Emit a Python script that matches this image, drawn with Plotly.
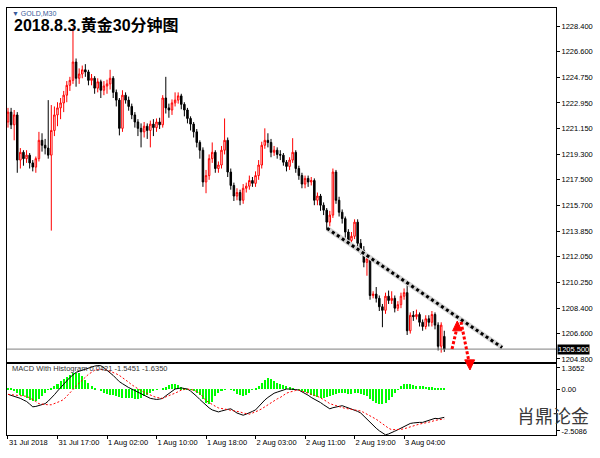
import plotly.graph_objects as go

TITLE = "2018.8.3.黄金30分钟图"
SYMBOL = "▼ GOLD,M30"
WATERMARK = "肖鼎论金"
MACD_LABEL = "MACD With Histogram 0.0421 -1.5451 -1.6350"

OPEN = [1221.6, 1222.3, 1221.4, 1222.1, 1218.9, 1219.45, 1219.0, 1219.25, 1218.7, 1218.4,
        1219.0, 1220.3, 1219.95, 1219.75, 1219.25, 1221.0, 1222.1, 1222.6, 1222.95, 1223.5,
        1224.2, 1224.55, 1225.85, 1224.7, 1225.0, 1225.3, 1225.15, 1224.55, 1224.7, 1224.0,
        1224.45, 1223.85, 1224.15, 1224.3, 1224.7, 1223.7, 1223.15, 1221.15, 1223.5, 1223.15,
        1222.7, 1222.1, 1221.6, 1221.15, 1220.9, 1221.3, 1221.0, 1221.45, 1221.2, 1221.6,
        1221.4, 1223.3, 1222.6, 1222.45, 1222.95, 1223.15, 1223.45, 1222.85, 1222.45, 1221.85,
        1221.45, 1220.9, 1220.15, 1219.6, 1217.35, 1217.8, 1219.0, 1219.45, 1218.3, 1218.55,
        1219.6, 1220.3, 1218.05, 1217.1, 1216.35, 1216.6, 1216.05, 1216.9, 1217.05, 1217.45,
        1217.25, 1217.8, 1218.55, 1219.95, 1220.3, 1220.15, 1219.45, 1219.6, 1219.3, 1219.25,
        1218.75, 1218.45, 1218.9, 1219.45, 1218.3, 1217.8, 1217.2, 1217.6, 1217.35, 1217.45,
        1216.05, 1216.35, 1215.7, 1215.35, 1214.5, 1215.0, 1218.05, 1216.05, 1215.2, 1214.75,
        1213.8, 1213.2, 1213.5, 1214.5, 1213.0, 1212.5, 1211.65, 1211.9, 1209.3, 1209.4,
        1209.1, 1208.5, 1208.25, 1209.25, 1208.95, 1209.1, 1208.4, 1208.65, 1209.25, 1209.5,
        1206.8, 1207.9, 1207.8, 1207.95, 1207.4, 1207.1, 1207.65, 1207.4, 1207.95, 1207.2,
        1205.7, 1206.4]
HIGH = [1222.6, 1222.6, 1222.45, 1222.3, 1219.75, 1219.6, 1219.6, 1219.4, 1218.9, 1219.15,
        1220.9, 1220.8, 1220.4, 1223.15, 1222.8, 1222.7, 1223.0, 1223.3, 1223.8, 1224.5,
        1224.8, 1228.3, 1226.1, 1225.4, 1225.6, 1225.7, 1225.3, 1225.0, 1224.85, 1224.7,
        1224.6, 1224.5, 1224.6, 1225.3, 1224.85, 1223.9, 1223.3, 1223.85, 1223.7, 1223.4,
        1222.9, 1222.3, 1221.8, 1221.5, 1221.6, 1221.5, 1221.7, 1221.8, 1221.85, 1221.9,
        1223.5, 1224.8, 1222.9, 1223.2, 1223.7, 1223.7, 1223.6, 1223.0, 1222.6, 1222.0,
        1221.6, 1221.1, 1220.3, 1219.8, 1218.2, 1219.3, 1220.15, 1219.6, 1218.8, 1219.9,
        1221.85, 1220.5, 1218.3, 1217.3, 1216.9, 1216.8, 1217.2, 1217.3, 1217.8, 1217.7,
        1218.1, 1218.9, 1220.2, 1221.15, 1220.8, 1220.4, 1219.9, 1219.8, 1219.6, 1219.4,
        1218.9, 1219.1, 1220.45, 1219.6, 1218.5, 1218.0, 1217.8, 1217.8, 1217.7, 1217.6,
        1216.6, 1216.5, 1215.9, 1215.5, 1215.3, 1218.3, 1218.2, 1216.3, 1215.4, 1214.9,
        1214.0, 1213.8, 1214.7, 1214.7, 1213.3, 1212.8, 1212.2, 1212.0, 1209.6, 1209.9,
        1209.3, 1208.7, 1209.5, 1209.65, 1209.6, 1209.3, 1208.9, 1209.5, 1209.8, 1210.15,
        1208.1, 1208.2, 1208.3, 1208.1, 1207.6, 1207.9, 1207.9, 1208.2, 1208.1, 1207.4,
        1207.4, 1206.8]
LOW = [1221.2, 1221.1, 1220.3, 1218.0, 1218.3, 1218.5, 1218.7, 1218.3, 1218.1, 1218.0,
       1218.8, 1219.5, 1219.3, 1219.0, 1213.9, 1220.6, 1221.3, 1221.8, 1222.3, 1223.0,
       1223.8, 1224.3, 1224.1, 1224.3, 1224.7, 1224.8, 1224.2, 1224.2, 1223.6, 1223.7,
       1223.3, 1223.5, 1223.6, 1223.9, 1223.3, 1222.7, 1220.65, 1220.9, 1222.9, 1222.4,
       1221.8, 1221.2, 1220.6, 1219.8, 1220.5, 1220.4, 1219.8, 1220.6, 1220.9, 1221.1,
       1221.2, 1222.2, 1221.9, 1222.1, 1222.7, 1222.9, 1222.5, 1222.0, 1221.5, 1221.0,
       1220.5, 1219.8, 1219.0, 1217.0, 1216.55, 1217.5, 1218.7, 1218.0, 1218.0, 1218.3,
       1219.3, 1217.7, 1216.8, 1216.0, 1216.05, 1215.7, 1215.8, 1216.6, 1216.8, 1217.0,
       1217.0, 1217.5, 1218.3, 1219.7, 1219.8, 1219.1, 1219.2, 1219.0, 1218.9, 1218.5,
       1218.1, 1218.2, 1218.7, 1218.0, 1217.5, 1216.9, 1216.9, 1217.0, 1217.1, 1215.7,
       1215.7, 1215.3, 1215.0, 1213.9, 1214.2, 1214.8, 1215.8, 1214.9, 1214.4, 1213.4,
       1212.9, 1213.0, 1213.3, 1212.7, 1212.2, 1211.3, 1210.7, 1209.0, 1209.1, 1208.8,
       1208.2, 1207.05, 1208.0, 1208.7, 1208.7, 1208.1, 1208.2, 1208.4, 1209.0, 1206.5,
       1206.6, 1207.5, 1207.6, 1207.1, 1206.8, 1206.9, 1207.1, 1207.1, 1206.9, 1205.4,
       1205.25, 1205.3]
CLOSE = [1222.3, 1221.4, 1222.1, 1218.9, 1219.45, 1219.0, 1219.25, 1218.7, 1218.4, 1219.0,
         1220.3, 1219.95, 1219.75, 1219.25, 1221.0, 1222.1, 1222.6, 1222.95, 1223.5, 1224.2,
         1224.55, 1225.85, 1224.7, 1225.0, 1225.3, 1225.15, 1224.55, 1224.7, 1224.0, 1224.45,
         1223.85, 1224.15, 1224.3, 1224.7, 1223.7, 1223.15, 1221.15, 1223.5, 1223.15, 1222.7,
         1222.1, 1221.6, 1221.15, 1220.9, 1221.3, 1221.0, 1221.45, 1221.2, 1221.6, 1221.4,
         1223.3, 1222.6, 1222.45, 1222.95, 1223.15, 1223.45, 1222.85, 1222.45, 1221.85, 1221.45,
         1220.9, 1220.15, 1219.6, 1217.35, 1217.8, 1219.0, 1219.45, 1218.3, 1218.55, 1219.6,
         1220.3, 1218.05, 1217.1, 1216.35, 1216.6, 1216.05, 1216.9, 1217.05, 1217.45, 1217.25,
         1217.8, 1218.55, 1219.95, 1220.3, 1220.15, 1219.45, 1219.6, 1219.3, 1219.25, 1218.75,
         1218.45, 1218.9, 1219.45, 1218.3, 1217.8, 1217.2, 1217.6, 1217.35, 1217.45, 1216.05,
         1216.35, 1215.7, 1215.35, 1214.5, 1215.0, 1218.05, 1216.05, 1215.2, 1214.75, 1213.8,
         1213.2, 1213.5, 1214.5, 1213.0, 1212.5, 1211.65, 1211.9, 1209.3, 1209.4, 1209.1,
         1208.5, 1208.25, 1209.25, 1208.95, 1209.1, 1208.4, 1208.65, 1209.25, 1209.5, 1206.8,
         1207.9, 1207.8, 1207.95, 1207.4, 1207.1, 1207.65, 1207.4, 1207.95, 1207.2, 1205.7,
         1207.2, 1205.5]

MACD = [-0.29, -0.34, -0.40, -0.45, -0.51, -0.60, -0.68, -0.82, -0.97, -0.95,
        -0.91, -0.86, -0.80, -0.66, -0.51, -0.31, -0.11, 0.09, 0.29, 0.46,
        0.63, 0.77, 0.91, 0.97, 1.03, 1.09, 1.14, 1.20, 1.25, 1.28,
        1.27, 1.16, 1.03, 0.89, 0.74, 0.57, 0.40, 0.29, 0.17, 0.08,
        0.00, -0.09, -0.17, -0.26, -0.34, -0.43, -0.51, -0.54, -0.57, -0.55,
        -0.51, -0.37, -0.23, -0.11, 0.00, 0.03, 0.06, 0.03, 0.00, -0.11,
        -0.23, -0.40, -0.57, -0.74, -0.91, -1.03, -1.14, -1.20, -1.25, -1.20,
        -1.14, -1.11, -1.08, -1.20, -1.31, -1.37, -1.43, -1.37, -1.31, -1.22,
        -1.14, -0.94, -0.74, -0.60, -0.46, -0.34, -0.23, -0.17, -0.11, -0.05,
        0.00, 0.00, 0.00, -0.03, -0.06, -0.14, -0.23, -0.34, -0.46, -0.54,
        -0.63, -0.74, -0.86, -0.97, -1.08, -1.02, -0.97, -0.94, -0.91, -0.97,
        -1.03, -1.08, -1.14, -1.22, -1.31, -1.48, -1.65, -1.82, -2.00, -2.14,
        -2.28, -2.40, -2.50, -2.45, -2.39, -2.30, -2.22, -2.13, -2.05, -1.96,
        -1.88, -1.85, -1.82, -1.82, -1.82, -1.76, -1.71, -1.65, -1.60, -1.62,
        -1.60, -1.5451]
SIGNAL = [-0.29, -0.31, -0.34, -0.34, -0.34, -0.37, -0.40, -0.48, -0.57, -0.68,
          -0.80, -0.83, -0.86, -0.86, -0.86, -0.80, -0.74, -0.66, -0.57, -0.40,
          -0.23, -0.03, 0.17, 0.34, 0.51, 0.66, 0.80, 0.91, 1.03, 1.06,
          1.08, 1.06, 1.03, 0.97, 0.91, 0.83, 0.74, 0.63, 0.51, 0.37,
          0.23, 0.11, 0.00, -0.09, -0.17, -0.26, -0.34, -0.40, -0.46, -0.49,
          -0.51, -0.43, -0.34, -0.29, -0.23, -0.14, -0.06, -0.03, 0.00, -0.03,
          -0.06, -0.14, -0.23, -0.43, -0.63, -0.74, -0.86, -0.94, -1.03, -1.06,
          -1.08, -1.11, -1.14, -1.17, -1.20, -1.25, -1.31, -1.34, -1.37, -1.31,
          -1.25, -1.17, -1.08, -0.97, -0.86, -0.74, -0.63, -0.54, -0.46, -0.34,
          -0.23, -0.17, -0.11, -0.08, -0.06, -0.11, -0.17, -0.23, -0.29, -0.34,
          -0.40, -0.48, -0.57, -0.68, -0.80, -0.86, -0.91, -0.97, -1.03, -1.06,
          -1.08, -1.11, -1.14, -1.17, -1.20, -1.28, -1.37, -1.45, -1.54, -1.65,
          -1.77, -1.91, -2.05, -2.14, -2.22, -2.22, -2.22, -2.20, -2.17, -2.11,
          -2.05, -2.00, -1.94, -1.91, -1.88, -1.85, -1.82, -1.77, -1.71, -1.68,
          -1.65, -1.635]
HIST = [0.06, 0.06, -0.10, -0.20, -0.30, -0.40, -0.50, -0.60, -0.68, -0.65,
        -0.55, -0.40, -0.20, -0.05, 0.05, 0.15, 0.30, 0.45, 0.55, 0.65,
        0.75, 0.85, 0.90, 0.85, 0.70, 0.50, 0.35, 0.15, 0.05, 0.00,
        -0.10, -0.20, -0.25, -0.30, -0.35, -0.40, -0.45, -0.50, -0.50, -0.50,
        -0.50, -0.55, -0.55, -0.50, -0.40, -0.30, -0.20, -0.10, -0.05, 0.00,
        0.05, 0.10, 0.20, 0.25, 0.25, 0.20, 0.10, 0.02, -0.02, -0.05,
        -0.10, -0.20, -0.35, -0.55, -0.75, -0.80, -0.70, -0.40, -0.20, -0.10,
        -0.05, 0.00, -0.05, -0.10, -0.25, -0.35, -0.40, -0.35, -0.20, -0.05,
        0.05, 0.15, 0.35, 0.50, 0.60, 0.55, 0.45, 0.35, 0.25, 0.20,
        0.15, 0.10, 0.05, 0.00, -0.05, -0.10, -0.15, -0.20, -0.30, -0.40,
        -0.45, -0.50, -0.50, -0.45, -0.40, -0.35, -0.25, -0.20, -0.20, -0.20,
        -0.25, -0.25, -0.20, -0.20, -0.25, -0.30, -0.40, -0.55, -0.65, -0.75,
        -0.80, -0.80, -0.75, -0.60, -0.45, -0.20, -0.05, 0.15, 0.25, 0.28,
        0.25, 0.20, 0.18, 0.15, 0.15, 0.12, 0.10, 0.10, 0.05, 0.04,
        0.04, 0.0421]

TIME_TICK_BARS = [0, 16, 32, 48, 64, 80, 96, 112, 128]
TIME_TICK_LABELS = ["31 Jul 2018", "31 Jul 17:00", "1 Aug 02:00", "1 Aug 10:00",
                    "1 Aug 18:00", "2 Aug 03:00", "2 Aug 11:00", "2 Aug 19:00", "3 Aug 04:00"]
PRICE_TICKS = [1228.4, 1226.6, 1224.75, 1222.95, 1221.15, 1219.3, 1217.5,
               1215.7, 1213.85, 1212.05, 1210.25, 1208.4, 1206.6, 1204.8]
PRICE_RANGE = [1204.62, 1229.68]
MACD_RANGE = [-2.5086, 1.3652]
MACD_TICK_POS = [1.15, 0.0, -2.29]
MACD_TICK_LABELS = ["1.3652", "0.00", "-2.5086"]
X_RANGE = [-0.32, 177.1]

# hand-drawn trend line (bar index, price)
TREND_X = [103.1, 159.7]
TREND_Y = [1214.06, 1205.61]
# hand-drawn red arrows (bar index, paper y)
UP_ARROW = dict(line=[(143.5, 0.2014), (145.0, 0.2480)],
                head=[(145.2, 0.2670), (143.7, 0.2440), (146.7, 0.2440)])
DOWN_ARROW = dict(line=[(146.4, 0.2650), (148.8, 0.1780)],
                  head=[(149.3, 0.1522), (147.6, 0.1760), (150.8, 0.1760)])

X = list(range(len(CLOSE)))
FONT = "Liberation Sans, Arial, sans-serif"

fig = go.Figure()

fig.add_trace(go.Candlestick(
    x=X, open=OPEN, high=HIGH, low=LOW, close=CLOSE,
    increasing=dict(line=dict(color="#ff0000", width=1), fillcolor="#ffffff"),
    decreasing=dict(line=dict(color="#000000", width=1), fillcolor="#000000"),
    whiskerwidth=0, xaxis="x", yaxis="y", showlegend=False))

# trend line with light shadow
fig.add_trace(go.Scatter(x=TREND_X, y=TREND_Y, mode="lines",
                         line=dict(color="#d4d4d4", width=5), xaxis="x", yaxis="y",
                         hoverinfo="skip", showlegend=False))
fig.add_trace(go.Scatter(x=TREND_X, y=TREND_Y, mode="lines",
                         line=dict(color="#000000", width=3, dash="3px,3px"), xaxis="x", yaxis="y",
                         hoverinfo="skip", showlegend=False))

# MACD panel
fig.add_trace(go.Bar(x=X, y=HIST, marker=dict(color="#00ff00", line=dict(width=0)),
                     width=0.65, xaxis="x2", yaxis="y2", showlegend=False))
fig.add_trace(go.Scatter(x=X, y=MACD, mode="lines", line=dict(color="#000000", width=1),
                         xaxis="x2", yaxis="y2", showlegend=False))
fig.add_trace(go.Scatter(x=X, y=SIGNAL, mode="lines",
                         line=dict(color="#ff0000", width=1, dash="2px,2px"),
                         xaxis="x2", yaxis="y2", showlegend=False))

MAIN_DOMAIN = [0.1721, 1.0]
MACD_DOMAIN = [0.0, 0.1663]

axis_common = dict(showgrid=False, zeroline=False, showline=True, linecolor="#000000",
                   linewidth=1, mirror=True, automargin=False,
                   tickfont=dict(family=FONT, size=7.5, color="#000000"))

fig.update_layout(
    width=600, height=458, template="none",
    margin=dict(l=7, r=44, t=8, b=23),
    paper_bgcolor="#ffffff", plot_bgcolor="#ffffff",
    showlegend=False, bargap=0,
    font=dict(family=FONT, size=7.5, color="#000000"),
    xaxis=dict(domain=[0, 1], anchor="y", range=X_RANGE, showticklabels=False,
               ticks="", rangeslider=dict(visible=False), **axis_common),
    xaxis2=dict(domain=[0, 1], anchor="y2", range=X_RANGE, matches="x",
                tickvals=TIME_TICK_BARS, ticktext=TIME_TICK_LABELS,
                ticks="outside", ticklen=3, tickcolor="#000000",
                ticklabelposition="outside right", **axis_common),
    yaxis=dict(domain=MAIN_DOMAIN, anchor="x", side="right", range=PRICE_RANGE,
               tickvals=PRICE_TICKS, ticktext=[f"{v:.3f}" for v in PRICE_TICKS],
               ticks="outside", ticklen=3, tickcolor="#000000", **axis_common),
    yaxis2=dict(domain=MACD_DOMAIN, anchor="x2", side="right", range=MACD_RANGE,
                tickvals=MACD_TICK_POS, ticktext=MACD_TICK_LABELS,
                ticks="outside", ticklen=3, tickcolor="#000000", **axis_common),
)

shapes = []
# bid line at last close
shapes.append(dict(type="line", xref="paper", yref="y", x0=0, x1=1,
                   y0=CLOSE[-1], y1=CLOSE[-1], line=dict(color="#7f7f7f", width=1)))
for arr in (UP_ARROW, DOWN_ARROW):
    (ax0, ay0), (ax1, ay1) = arr["line"]
    shapes.append(dict(type="line", xref="x", yref="paper", x0=ax0, y0=ay0, x1=ax1, y1=ay1,
                       line=dict(color="#ff0000", width=3, dash="3px,2px")))
    (tx, ty), (lx, ly), (rx, ry) = arr["head"]
    shapes.append(dict(type="path", xref="x", yref="paper",
                       path=f"M {tx} {ty} L {lx} {ly} L {rx} {ry} Z",
                       fillcolor="#ff0000", line=dict(color="#ff0000", width=1)))
fig.update_layout(shapes=shapes)

annotations = [
    dict(text=f"{CLOSE[-1]:.3f}", xref="paper", yref="y", x=1, y=CLOSE[-1],
         xanchor="left", yanchor="middle", xshift=1, showarrow=False,
         bgcolor="#000000", borderpad=0, font=dict(family=FONT, size=7.5, color="#ffffff")),
    dict(text=f"<b>{TITLE}</b>", xref="paper", yref="paper", x=0.0091, y=0.960,
         xanchor="left", yanchor="middle", showarrow=False,
         font=dict(family="Liberation Sans, Noto Sans CJK SC, sans-serif", size=16, color="#000000")),
    dict(text=SYMBOL, xref="paper", yref="paper", x=0.0055, y=0.988,
         xanchor="left", yanchor="middle", showarrow=False,
         font=dict(family=FONT, size=7, color="#3a5a9a")),
    dict(text=MACD_LABEL, xref="paper", yref="paper", x=0.0055, y=0.1546,
         xanchor="left", yanchor="middle", showarrow=False,
         font=dict(family=FONT, size=7.5, color="#333333")),
    dict(text=WATERMARK, xref="paper", yref="paper", x=0.925, y=0.046,
         xanchor="left", yanchor="middle", showarrow=False,
         font=dict(family="Noto Sans CJK SC, sans-serif", size=18, color="#3a3a3a")),
]
fig.update_layout(annotations=annotations)

fig.write_html("out.html", config={"displayModeBar": False},
               post_script="document.body.style.margin='0px';")
